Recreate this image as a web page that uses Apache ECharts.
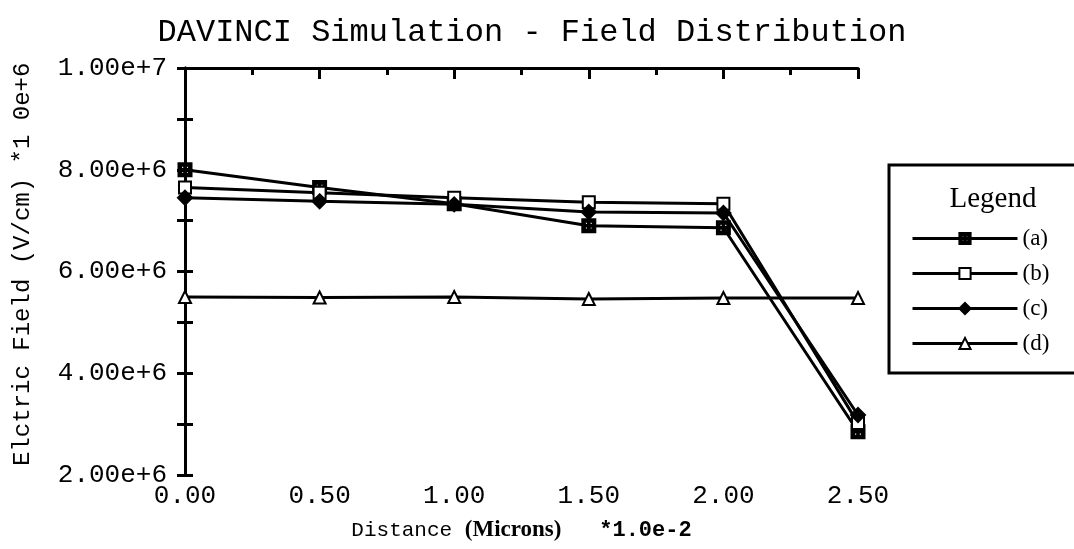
<!DOCTYPE html>
<html>
<head>
<meta charset="utf-8">
<script src="https://cdn.jsdelivr.net/npm/echarts@6/dist/echarts.min.js"></script>
<style>
  html, body { margin: 0; padding: 0; background: #fff; }
  #chart { width: 1074px; height: 549px; }
</style>
</head>
<body>
<div id="chart"></div>
<script>
// 距离 (x 轴, 单位 *1.0e-2 microns)
const distance = [0.0, 0.5, 1.0, 1.5, 2.0, 2.5];
// 各曲线电场值 (V/cm)
const seriesA = [8.0e6, 7.65e6, 7.33e6, 6.9e6, 6.86e6, 2.85e6];
const seriesB = [7.65e6, 7.55e6, 7.45e6, 7.36e6, 7.33e6, 3.02e6];
const seriesC = [7.45e6, 7.38e6, 7.32e6, 7.17e6, 7.15e6, 3.18e6];
const seriesD = [5.5e6, 5.49e6, 5.5e6, 5.46e6, 5.48e6, 5.48e6];
const seriesNames = ['(a)', '(b)', '(c)', '(d)'];

const FONT_MONO = 'Liberation Mono';
const FONT_SERIF = 'Liberation Serif';

// 带小白孔的实心方块 (a)
const crossSquare = 'path://M0 0 L10 0 L10 10 L0 10 Z' +
  ' M2 2 L2 4.4 L4.4 4.4 L4.4 2 Z' +
  ' M5.6 2 L5.6 4.4 L8 4.4 L8 2 Z' +
  ' M2 5.6 L2 8 L4.4 8 L4.4 5.6 Z' +
  ' M5.6 5.6 L5.6 8 L8 8 L8 5.6 Z';

function toPairs(values) {
  return distance.map((x, i) => [x, values[i]]);
}

function makeLine(name, values, symbol, fill, size) {
  return {
    name: name,
    type: 'line',
    data: toPairs(values),
    symbol: symbol,
    symbolSize: size,
    showAllSymbol: true,
    lineStyle: { color: '#000', width: 3 },
    itemStyle: { color: fill, borderColor: '#000', borderWidth: 2 },
    emphasis: { disabled: true },
    z: 3
  };
}

const chart = echarts.init(document.getElementById('chart'));

const option = {
  backgroundColor: '#fff',
  animation: false,
  title: [{
    text: 'DAVINCI Simulation - Field Distribution',
    left: 527,
    top: 12,
    textAlign: 'center',
    textStyle: { fontFamily: FONT_MONO, fontSize: 32, fontWeight: 'normal', color: '#000' }
  }, {
    text: 'Legend',
    left: 988,
    top: 180,
    textAlign: 'center',
    textStyle: { fontFamily: FONT_SERIF, fontSize: 29, fontWeight: 'normal', color: '#000' }
  }],
  legend: {
    orient: 'vertical',
    left: 889,
    top: 165,
    data: seriesNames,
    itemWidth: 105,
    itemHeight: 14,
    itemGap: 12,
    padding: [62, 60, 18, 22],
    borderColor: '#000',
    borderWidth: 3,
    selectedMode: false,
    lineStyle: { width: 3 },
    textStyle: { fontFamily: FONT_SERIF, fontSize: 23, color: '#000' }
  },
  grid: { left: 185, right: 216, top: 68, bottom: 74 },
  xAxis: [{
    type: 'value',
    min: 0,
    max: 2.5,
    interval: 0.5,
    position: 'bottom',
    axisLine: { show: false },
    axisTick: { show: false },
    splitLine: { show: false },
    axisLabel: {
      margin: 8,
      fontFamily: FONT_MONO,
      fontSize: 26,
      color: '#000',
      formatter: v => v.toFixed(2)
    },
    name: '{a|Distance }{b|(Microns)}{a|   }{c|*1.0e-2}',
    nameLocation: 'middle',
    nameGap: 44,
    nameTextStyle: {
      rich: {
        a: { fontFamily: FONT_MONO, fontSize: 21, color: '#000' },
        b: { fontFamily: FONT_SERIF, fontSize: 23, fontWeight: 'bold', color: '#000' },
        c: { fontFamily: FONT_MONO, fontSize: 22, fontWeight: 'bold', color: '#000' }
      }
    }
  }, {
    type: 'value',
    min: 0,
    max: 2.5,
    interval: 0.5,
    position: 'top',
    axisLine: { show: true, lineStyle: { color: '#000', width: 3 } },
    axisTick: { show: true, inside: true, length: 11, lineStyle: { color: '#000', width: 3 } },
    minorTick: { show: true, splitNumber: 2, length: 7, lineStyle: { color: '#000', width: 3 } },
    axisLabel: { show: false },
    splitLine: { show: false }
  }],
  yAxis: [{
    type: 'value',
    min: 2e6,
    max: 1e7,
    interval: 2e6,
    position: 'left',
    axisLine: { show: true, lineStyle: { color: '#000', width: 3 } },
    axisTick: { show: true, inside: true, length: 8, lineStyle: { color: '#000', width: 3 } },
    minorTick: { show: true, splitNumber: 2, length: 8, lineStyle: { color: '#000', width: 3 } },
    splitLine: { show: false },
    axisLabel: {
      margin: 18,
      fontFamily: FONT_MONO,
      fontSize: 26,
      color: '#000',
      formatter: v => v.toExponential(2)
    },
    name: ' Elctric Field (V/cm) *1 0e+6',
    nameLocation: 'middle',
    nameGap: 150,
    nameRotate: 90,
    nameTextStyle: { fontFamily: FONT_MONO, fontSize: 24, color: '#000' }
  }, {
    type: 'value',
    min: 2e6,
    max: 1e7,
    interval: 2e6,
    position: 'right',
    axisLine: { show: true, lineStyle: { color: '#000', width: 3 } },
    axisTick: { show: true, inside: true, length: 8, lineStyle: { color: '#000', width: 3 } },
    minorTick: { show: true, splitNumber: 2, length: 8, lineStyle: { color: '#000', width: 3 } },
    axisLabel: { show: false },
    splitLine: { show: false }
  }],
  series: [
    makeLine(seriesNames[0], seriesA, crossSquare, '#000', 13),
    makeLine(seriesNames[1], seriesB, 'rect', '#fff', 12),
    makeLine(seriesNames[2], seriesC, 'diamond', '#000', 14),
    makeLine(seriesNames[3], seriesD, 'triangle', '#fff', 12)
  ]
};

chart.setOption(option);
</script>
</body>
</html>
